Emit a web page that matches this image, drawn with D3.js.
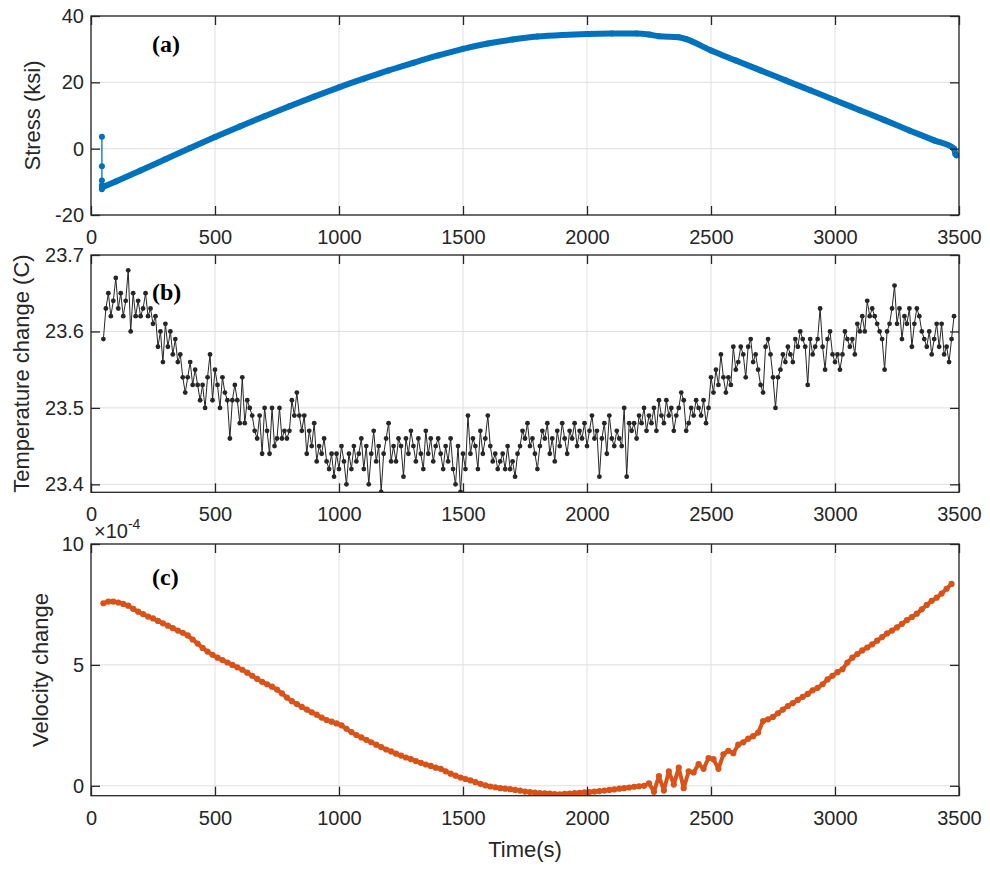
<!DOCTYPE html>
<html>
<head>
<meta charset="utf-8">
<script src="https://cdn.jsdelivr.net/npm/d3@7"></script>
<style>
  body { margin: 0; background: #fff; }
  svg { display: block; }
</style>
</head>
<body>
<script>
const w = 990;
const h = 869;
const left = 91;
const right = 959;

// shared time axis
const timeTicks = [0, 500, 1000, 1500, 2000, 2500, 3000, 3500];

// (a) stress, ksi
const stressStartTime = [44, 44, 44, 44, 44, 44];
const stressStart = [3.6, -5.3, -9.6, -11.0, -11.8, -12.2];
const stressTime = [50, 100, 200, 300, 400, 500, 600, 700, 800, 900, 1000,
  1100, 1200, 1300, 1400, 1500, 1600, 1700, 1800, 1900, 2000, 2100, 2200,
  2250, 2290, 2370, 2400, 2500, 2600, 2700, 2800, 2900, 3000, 3100, 3200,
  3300, 3400, 3480, 3485, 3490];
const stress = [-11.5, -9.9, -6.6, -3.2, 0.2, 3.5, 6.7, 9.8, 12.8, 15.7, 18.5,
  21.1, 23.6, 25.9, 28.1, 30.1, 31.7, 32.9, 33.8, 34.3, 34.6, 34.7, 34.7,
  34.4, 33.9, 33.6, 33.0, 29.6, 26.6, 23.6, 20.6, 17.6, 14.6, 11.6, 8.6,
  5.5, 2.5, 0.0, -1.5, -2.0];
const stressTicks = [-20, 0, 20, 40];

// (b) temperature, C  (one reading every 10 s from 50 s)
const tempStart = 50;
const tempStep = 10;
const temperature = [
  23.59, 23.63, 23.65, 23.62, 23.64, 23.67, 23.63, 23.65, 23.62, 23.64,
  23.68, 23.60, 23.65, 23.62, 23.64, 23.62, 23.63, 23.65, 23.62, 23.63,
  23.61, 23.62, 23.58, 23.60, 23.56, 23.61, 23.58, 23.60, 23.57, 23.59,
  23.56, 23.57, 23.54, 23.52, 23.54, 23.56, 23.53, 23.55, 23.53, 23.51,
  23.53, 23.50, 23.54, 23.57, 23.51, 23.55, 23.53, 23.50, 23.54, 23.52,
  23.51, 23.46, 23.51, 23.53, 23.51, 23.48, 23.54, 23.48, 23.51, 23.50,
  23.49, 23.47, 23.46, 23.49, 23.44, 23.50, 23.47, 23.44, 23.50, 23.45,
  23.46, 23.50, 23.46, 23.47, 23.46, 23.47, 23.51, 23.49, 23.52, 23.49,
  23.47, 23.49, 23.44, 23.47, 23.45, 23.48, 23.43, 23.45, 23.44, 23.46,
  23.43, 23.42, 23.44, 23.41, 23.44, 23.42, 23.45, 23.43, 23.40, 23.44,
  23.42, 23.45, 23.43, 23.44, 23.46, 23.42, 23.45, 23.40, 23.44, 23.47,
  23.43, 23.45, 23.39, 23.44, 23.46, 23.48, 23.43, 23.45, 23.43, 23.46,
  23.45, 23.41, 23.46, 23.44, 23.47, 23.45, 23.43, 23.46, 23.44, 23.42,
  23.47, 23.44, 23.46, 23.43, 23.45, 23.46, 23.44, 23.42, 23.45, 23.43,
  23.46, 23.42, 23.40, 23.45, 23.39, 23.44, 23.42, 23.49, 23.44, 23.46,
  23.45, 23.42, 23.47, 23.44, 23.46, 23.49, 23.45, 23.43, 23.44, 23.42,
  23.43, 23.44, 23.42, 23.45, 23.42, 23.43, 23.41, 23.44, 23.45, 23.47,
  23.46, 23.48, 23.45, 23.46, 23.44, 23.42, 23.45, 23.47, 23.46, 23.48,
  23.44, 23.46, 23.43, 23.47, 23.45, 23.48, 23.46, 23.44, 23.47, 23.46,
  23.48, 23.45, 23.47, 23.46, 23.48, 23.45, 23.47, 23.49, 23.46, 23.47,
  23.41, 23.46, 23.48, 23.44, 23.49, 23.46, 23.45, 23.47, 23.46, 23.45,
  23.50, 23.41, 23.48, 23.47, 23.48, 23.46, 23.49, 23.48, 23.50, 23.47,
  23.49, 23.48, 23.50, 23.47, 23.51, 23.49, 23.48, 23.51, 23.49, 23.50,
  23.47, 23.49, 23.50, 23.52, 23.51, 23.47, 23.48, 23.50, 23.49, 23.51,
  23.50, 23.49, 23.51, 23.48, 23.50, 23.54, 23.52, 23.55, 23.53, 23.57,
  23.54, 23.52, 23.54, 23.53, 23.58, 23.55, 23.56, 23.58, 23.57, 23.54,
  23.58, 23.59, 23.56, 23.57, 23.55, 23.53, 23.52, 23.58, 23.59, 23.57,
  23.54, 23.50, 23.54, 23.55, 23.57, 23.56, 23.58, 23.57, 23.56, 23.59,
  23.58, 23.60, 23.59, 23.58, 23.53, 23.59, 23.57, 23.58, 23.59, 23.63,
  23.58, 23.55, 23.59, 23.60, 23.57, 23.56, 23.57, 23.55, 23.57, 23.60,
  23.59, 23.58, 23.59, 23.57, 23.61, 23.60, 23.62, 23.60, 23.64, 23.62,
  23.63, 23.62, 23.61, 23.60, 23.59, 23.55, 23.60, 23.61, 23.63, 23.66,
  23.61, 23.63, 23.59, 23.62, 23.61, 23.63, 23.58, 23.61, 23.63, 23.62,
  23.60, 23.59, 23.58, 23.60, 23.57, 23.59, 23.61, 23.58, 23.61, 23.57,
  23.58, 23.56, 23.59, 23.62];
const tempTicks = [23.4, 23.5, 23.6, 23.7];

// (c) velocity change, in units of 1e-4 (one reading every 20 s from 50 s)
const velStart = 50;
const velStep = 20;
const velocity = [
  7.55, 7.62, 7.62, 7.58, 7.52, 7.45, 7.32, 7.20, 7.10, 7.00,
  6.92, 6.82, 6.72, 6.62, 6.52, 6.42, 6.33, 6.22, 6.05, 5.88,
  5.70, 5.55, 5.42, 5.30, 5.20, 5.10, 5.00, 4.90, 4.80, 4.68,
  4.55, 4.42, 4.30, 4.20, 4.10, 3.98, 3.82, 3.65, 3.50, 3.38,
  3.26, 3.15, 3.04, 2.94, 2.82, 2.72, 2.65, 2.58, 2.50, 2.36,
  2.22, 2.10, 2.00, 1.90, 1.80, 1.70, 1.60, 1.50, 1.42, 1.33,
  1.25, 1.17, 1.10, 1.02, 0.95, 0.88, 0.82, 0.75, 0.70, 0.60,
  0.50, 0.42, 0.34, 0.28, 0.22, 0.15, 0.08, 0.02, -0.03, -0.06,
  -0.10, -0.12, -0.14, -0.17, -0.20, -0.24, -0.26, -0.28, -0.30, -0.31,
  -0.32, -0.34, -0.35, -0.33, -0.32, -0.30, -0.29, -0.27, -0.26, -0.24,
  -0.22, -0.20, -0.17, -0.15, -0.12, -0.10, -0.07, -0.04, -0.02, 0.00,
  0.10, -0.25, 0.40, -0.20, 0.60, 0.05, 0.75, -0.10, 0.60, 0.55,
  0.90, 0.70, 1.15, 1.10, 0.70, 1.30, 1.45, 1.35, 1.70, 1.80,
  1.95, 2.05, 2.20, 2.68, 2.75, 2.85, 3.00, 3.15, 3.30, 3.42,
  3.55, 3.68, 3.80, 3.95, 4.05, 4.20, 4.40, 4.55, 4.70, 4.82,
  5.10, 5.30, 5.45, 5.60, 5.72, 5.85, 6.00, 6.15, 6.30, 6.42,
  6.55, 6.70, 6.85, 6.98, 7.12, 7.30, 7.48, 7.65, 7.78, 7.95,
  8.15, 8.35];
const velTicks = [0, 5, 10];

const svg = d3.select("body")
              .append("svg")
              .attr("width", w)
              .attr("height", h);

const xScale = d3.scaleLinear()
                 .domain([0, 3500])
                 .range([left, right]);

function makePanel(id, top, bottom, yDomain, yTicks, fmt) {
    const yScale = d3.scaleLinear().domain(yDomain).range([bottom, top]);
    const g = svg.append("g");

    // grid
    g.selectAll(".gx").data(timeTicks).enter().append("line")
        .attr("x1", d => xScale(d)).attr("x2", d => xScale(d))
        .attr("y1", top).attr("y2", bottom)
        .attr("stroke", "#dfdfdf");
    g.selectAll(".gy").data(yTicks).enter().append("line")
        .attr("x1", left).attr("x2", right)
        .attr("y1", d => yScale(d)).attr("y2", d => yScale(d))
        .attr("stroke", "#dfdfdf");

    g.append("clipPath").attr("id", id).append("rect")
        .attr("x", left).attr("y", top)
        .attr("width", right - left).attr("height", bottom - top);
    const plot = g.append("g").attr("clip-path", "url(#" + id + ")");

    const axes = function () {
        const style = sel => {
            sel.select(".domain").remove();
            sel.selectAll(".tick line").attr("stroke", "#262626").attr("stroke-width", 1.3);
            sel.selectAll(".tick text")
                .attr("fill", "#262626")
                .style("font-family", "'Liberation Sans', Arial, sans-serif")
                .style("font-size", "20px");
        };
        g.append("g").attr("transform", "translate(0," + bottom + ")")
            .call(d3.axisBottom(xScale).tickValues(timeTicks).tickSizeInner(-9).tickSizeOuter(0)
                .tickPadding(15).tickFormat(d3.format("d")))
            .call(style);
        g.append("g").attr("transform", "translate(0," + top + ")")
            .call(d3.axisTop(xScale).tickValues(timeTicks).tickSizeInner(-9).tickSizeOuter(0).tickFormat(""))
            .call(style);
        g.append("g").attr("transform", "translate(" + left + ",0)")
            .call(d3.axisLeft(yScale).tickValues(yTicks).tickSizeInner(-9).tickSizeOuter(0).tickPadding(7).tickFormat(fmt))
            .call(style);
        g.append("g").attr("transform", "translate(" + right + ",0)")
            .call(d3.axisRight(yScale).tickValues(yTicks).tickSizeInner(-9).tickSizeOuter(0).tickFormat(""))
            .call(style);
        g.append("rect")
            .attr("x", left).attr("y", top)
            .attr("width", right - left).attr("height", bottom - top)
            .attr("fill", "none").attr("stroke", "#262626").attr("stroke-width", 1.3);
    };
    return { yScale, g, plot, axes, top, bottom };
}

function panelLabel(text, y) {
    svg.append("text")
        .attr("x", 152).attr("y", y)
        .style("font-family", "'Liberation Serif', 'Times New Roman', serif")
        .style("font-weight", "bold")
        .style("font-size", "24px")
        .attr("fill", "#000")
        .text(text);
}

function yLabel(text, x, cy) {
    svg.append("text")
        .attr("transform", "translate(" + x + "," + cy + ") rotate(-90)")
        .attr("text-anchor", "middle")
        .style("font-family", "'Liberation Sans', Arial, sans-serif")
        .style("font-size", "22px")
        .attr("fill", "#262626")
        .text(text);
}

// ---------- (a) stress ----------
const pa = makePanel("clipA", 16, 215, [-20, 40], stressTicks, d => String(d));
const blue = "#0072BD";
const stressPts = stressTime.map((t, i) => [t, stress[i]]);
const startPts = stressStartTime.map((t, i) => [t, stressStart[i]]);
const lineA = d3.line().curve(d3.curveMonotoneX).x(d => xScale(d[0])).y(d => pa.yScale(d[1]));
const lineA0 = d3.line().x(d => xScale(d[0])).y(d => pa.yScale(d[1]));

pa.plot.append("path")
    .datum(startPts.concat([stressPts[0]]))
    .attr("d", lineA0)
    .attr("fill", "none").attr("stroke", blue).attr("stroke-width", 1.3);
pa.plot.append("path")
    .datum(stressPts)
    .attr("d", lineA)
    .attr("fill", "none").attr("stroke", blue).attr("stroke-width", 6)
    .attr("stroke-linejoin", "round").attr("stroke-linecap", "round");
pa.plot.selectAll(".dot").data(startPts.concat(stressPts)).enter().append("circle")
    .attr("cx", d => xScale(d[0])).attr("cy", d => pa.yScale(d[1]))
    .attr("r", 3).attr("fill", blue);
pa.axes();
yLabel("Stress (ksi)", 40, 115.5);
panelLabel("(a)", 52);

// ---------- (b) temperature ----------
const pb = makePanel("clipB", 255, 492.3, [23.3896, 23.7], tempTicks, d3.format(".1f"));
const dark = "#262626";
const tempPts = temperature.map((v, i) => [tempStart + i * tempStep, v]);
const lineB = d3.line().x(d => xScale(d[0])).y(d => pb.yScale(d[1]));
pb.plot.append("path")
    .datum(tempPts)
    .attr("d", lineB)
    .attr("fill", "none").attr("stroke", dark).attr("stroke-width", 1);
pb.plot.selectAll(".dot").data(tempPts).enter().append("circle")
    .attr("cx", d => xScale(d[0])).attr("cy", d => pb.yScale(d[1]))
    .attr("r", 2.4).attr("fill", dark);
pb.axes();
yLabel("Temperature change (C)", 29, 373.6);
panelLabel("(b)", 300);

// ---------- (c) velocity ----------
const pc = makePanel("clipC", 544, 795.7, [-0.41, 10], velTicks, d => String(d));
const orange = "#D95319";
const velPts = velocity.map((v, i) => [velStart + i * velStep, v]);
const lineC = d3.line().x(d => xScale(d[0])).y(d => pc.yScale(d[1]));
pc.plot.append("path")
    .datum(velPts)
    .attr("d", lineC)
    .attr("fill", "none").attr("stroke", orange).attr("stroke-width", 4)
    .attr("stroke-linejoin", "round");
pc.plot.selectAll(".dot").data(velPts).enter().append("circle")
    .attr("cx", d => xScale(d[0])).attr("cy", d => pc.yScale(d[1]))
    .attr("r", 3.1).attr("fill", orange);
pc.axes();
yLabel("Velocity change", 48, 670);
panelLabel("(c)", 585);

// exponent label
const expo = svg.append("text")
    .attr("x", 94).attr("y", 538)
    .style("font-family", "'Liberation Sans', Arial, sans-serif")
    .style("font-size", "20px")
    .attr("fill", "#262626");
expo.append("tspan").text("\u00d710");
expo.append("tspan").attr("dy", -9).style("font-size", "14px").text("-4");

// x label
svg.append("text")
    .attr("x", (left + right) / 2).attr("y", 857)
    .attr("text-anchor", "middle")
    .style("font-family", "'Liberation Sans', Arial, sans-serif")
    .style("font-size", "22px")
    .attr("fill", "#262626")
    .text("Time(s)");
</script>
</body>
</html>
